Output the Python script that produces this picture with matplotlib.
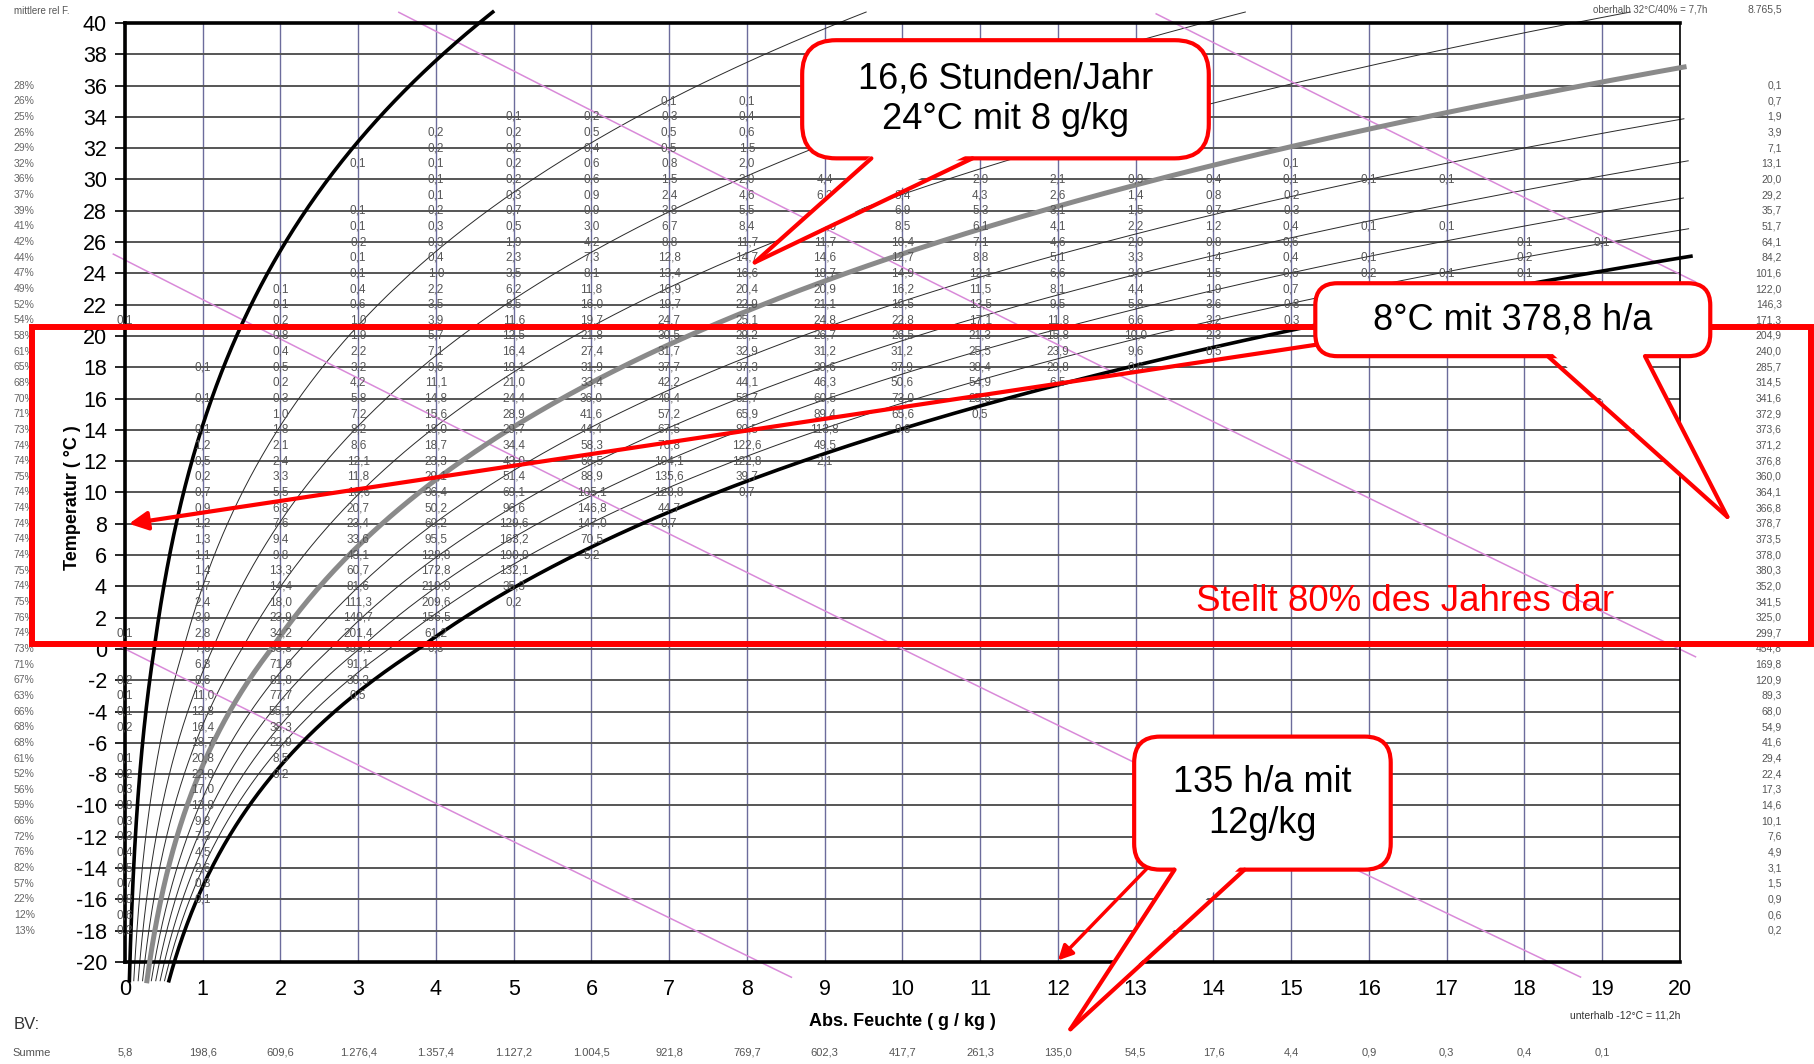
import numpy as np
import matplotlib
matplotlib.use("Agg")
import matplotlib.pyplot as plt
from matplotlib.patches import FancyBboxPatch, Polygon, Rectangle

# ---- values ----
temps = list(range(36, -19, -1))  # one row of hours per 1 degC

# first x column (g/kg) of each row, then the hours per year in that row (None = empty cell)
row_first_col = [9, 7, 5, 4, 4, 3, 4, 4, 3, 3, 3, 3, 3, 2, 2, 0, 2, 2, 1, 2, 1, 2, 1, 1, 1, 1,
                 1, 1, 1, 1, 1, 1, 1, 1, 1, 0, 1, 1, 0, 0, 0, 0, 1, 0, 0, 0, 0, 0, 0, 0, 0, 0,
                 0, 0, 0]
row_hours = [
    [0.1],
    [0.1, 0.1, 0.3, 0.2],
    [0.1, 0.2, 0.3, 0.4, 0.5, 0.3, 0.1],
    [0.2, 0.2, 0.5, 0.5, 0.6, 0.9, 0.6, 0.3, 0.1],
    [0.2, 0.2, 0.4, 0.5, 1.5, 1.6, 1.3, 0.8, 0.3, 0.2, 0.1],
    [0.1, 0.1, 0.2, 0.6, 0.8, 2.0, 3.0, 2.6, 2.3, 0.6, 0.5, 0.2, 0.1],
    [0.1, 0.2, 0.6, 1.5, 2.0, 4.4, 4.6, 2.9, 2.1, 0.9, 0.4, 0.1, 0.1, 0.1],
    [0.1, 0.3, 0.9, 2.4, 4.6, 6.2, 5.4, 4.3, 2.6, 1.4, 0.8, 0.2],
    [0.1, 0.2, 0.7, 0.9, 3.8, 5.5, 6.7, 6.9, 5.3, 3.1, 1.5, 0.7, 0.3],
    [0.1, 0.3, 0.5, 3.0, 6.7, 8.4, 10.0, 8.5, 6.1, 4.1, 2.2, 1.2, 0.4, 0.1, 0.1],
    [0.2, 0.3, 1.9, 4.2, 8.8, 11.7, 11.7, 10.4, 7.1, 4.6, 2.0, 0.8, 0.6, None, None, 0.1, 0.1],
    [0.1, 0.4, 2.3, 7.3, 12.8, 14.7, 14.6, 12.7, 8.8, 5.1, 3.3, 1.4, 0.4, 0.1, None, 0.2],
    [0.1, 1.0, 3.5, 8.1, 13.4, 16.6, 18.7, 14.9, 12.1, 6.6, 3.9, 1.5, 0.6, 0.2, 0.1, 0.1],
    [0.1, 0.4, 2.2, 6.2, 11.8, 16.9, 20.4, 20.9, 16.2, 11.5, 8.1, 4.4, 1.9, 0.7],
    [0.1, 0.6, 3.5, 8.5, 16.0, 19.7, 22.9, 21.1, 19.5, 13.5, 9.5, 5.8, 3.6, 0.8, 0.2],
    [0.1, None, 0.2, 1.0, 3.9, 11.6, 19.7, 24.7, 25.1, 24.8, 22.8, 17.1, 11.8, 6.6, 3.2, 0.3, 0.2],
    [0.8, 1.9, 5.7, 12.5, 21.8, 30.5, 29.2, 26.7, 26.5, 21.3, 15.8, 10.0, 2.3],
    [0.4, 2.2, 7.1, 16.4, 27.4, 31.7, 32.9, 31.2, 31.2, 25.5, 23.9, 9.6, 0.5],
    [0.1, 0.5, 3.2, 9.6, 19.1, 31.9, 37.7, 37.3, 39.6, 37.9, 38.4, 29.8, 0.6],
    [0.2, 4.2, 11.1, 21.0, 33.4, 42.2, 44.1, 46.3, 50.6, 54.9, 6.5],
    [0.1, 0.3, 5.8, 14.8, 24.4, 36.0, 49.4, 52.7, 60.5, 73.0, 25.5],
    [1.0, 7.2, 15.6, 28.9, 41.6, 57.2, 65.9, 89.4, 65.6, 0.5],
    [0.1, 1.8, 8.2, 18.0, 29.7, 44.4, 67.5, 80.5, 113.8, 9.6],
    [1.2, 2.1, 8.6, 18.7, 34.4, 58.3, 76.8, 122.6, 49.5],
    [0.5, 2.4, 12.1, 23.3, 43.0, 66.5, 104.1, 122.8, 2.1],
    [0.2, 3.3, 11.8, 29.1, 51.4, 88.9, 135.6, 39.7],
    [0.7, 5.5, 16.6, 36.4, 69.1, 105.1, 128.8, 0.7],
    [0.9, 6.8, 20.7, 50.2, 96.6, 146.8, 44.7],
    [1.2, 7.6, 23.4, 69.2, 129.6, 147.0, 0.7],
    [1.3, 9.4, 33.6, 95.5, 163.2, 70.5],
    [1.1, 9.8, 43.1, 128.8, 190.0, 5.2],
    [1.4, 13.3, 60.7, 172.8, 132.1],
    [1.7, 14.4, 81.6, 219.0, 35.3],
    [2.4, 18.0, 111.3, 209.6, 0.2],
    [3.9, 23.9, 140.7, 156.5],
    [0.1, 2.8, 34.2, 201.4, 61.2],
    [7.6, 93.8, 353.1, 0.3],
    [6.8, 71.9, 91.1],
    [0.2, 8.6, 81.8, 30.3],
    [0.1, 11.0, 77.7, 0.5],
    [0.1, 12.8, 55.1],
    [0.2, 16.4, 38.3],
    [18.7, 22.9],
    [0.1, 20.8, 8.5],
    [0.2, 22.0, 0.2],
    [0.3, 17.0],
    [0.8, 13.8],
    [0.3, 9.8],
    [0.3, 7.3],
    [0.4, 4.5],
    [0.5, 2.6],
    [0.7, 0.8],
    [0.8, 0.1],
    [0.6],
    [0.2],
]

# mean relative humidity per row (%), left margin
mean_rh = [28, 26, 25, 26, 29, 32, 36, 37, 39, 41, 42, 44, 47, 49, 52, 54,
           58, 61, 65, 68, 70, 71, 73, 74, 74, 75, 74, 74, 74, 74, 74, 75, 74, 75, 76, 74,
           73, 71, 67, 63, 66, 68, 68, 61, 52, 56, 59, 66, 72, 76, 82, 57, 22, 12, 13]

# hours per row, right margin
row_totals = [0.1, 0.7, 1.9, 3.9, 7.1, 13.1, 20.0, 29.2, 35.7, 51.7, 64.1, 84.2, 101.6,
              122.0, 146.3, 171.3, 204.9, 240.0, 285.7, 314.5, 341.6, 372.9, 373.6, 371.2,
              376.8, 360.0, 364.1, 366.8, 378.7, 373.5, 378.0, 380.3, 352.0, 341.5, 325.0,
              299.7, 454.8, 169.8, 120.9, 89.3, 68.0, 54.9, 41.6, 29.4, 22.4, 17.3, 14.6,
              10.1, 7.6, 4.9, 3.1, 1.5, 0.9, 0.6, 0.2]

# hours per humidity column ("Summe")
col_sums = [5.8, 198.6, 609.6, 1276.4, 1357.4, 1127.2, 1004.5, 921.8, 769.7, 602.3,
            417.7, 261.3, 135.0, 54.5, 17.6, 4.4, 0.9, 0.3, 0.4, 0.1]
grand_total = 8765.5

rh_levels = [10, 20, 30, 40, 50, 60, 70, 80, 90, 100]   # % relative humidity
enthalpy_levels = [0, 25, 50, 75]                        # kJ/kg

# callout boxes (x left, T top, x right, T bottom) - cells beneath them are covered
callout_boxes = [(8.71, 38.9, 13.94, 31.35), (15.31, 23.37, 20.39, 18.71),
                 (12.98, -5.6, 16.28, -14.1)]


def de(v, thousands=False):
    s = f"{v:,.1f}" if thousands else f"{v:.1f}"
    return s.replace(",", "X").replace(".", ",").replace("X", ".")


def abs_humidity(t, phi, p=101325.0):
    ps = np.where(t >= 0, 611.2 * np.exp(17.62 * t / (243.12 + t)),
                  611.2 * np.exp(22.46 * t / (272.62 + t)))
    return 622.0 * phi * ps / (p - phi * ps)


def covered(x, temp):
    for x0, t0, x1, t1 in callout_boxes:
        if x0 - 0.3 <= x <= x1 + 0.3 and t1 - 0.5 <= temp <= t0 + 0.5:
            return True
    return False


plt.rcParams["font.family"] = ["Liberation Sans", "DejaVu Sans"]
plt.rcParams["axes.unicode_minus"] = False
narrow = ["Liberation Sans Narrow", "Liberation Sans", "DejaVu Sans"]

fig = plt.figure(figsize=(18.14, 10.64), dpi=100)
ax = fig.add_axes([0.0689, 0.0959, 0.8572, 0.8825])
ax.set_xlim(0, 20)
ax.set_ylim(-20, 40)

# grid
ax.set_xticks(range(0, 21))
ax.set_yticks(range(-20, 41, 2))
ax.grid(axis="x", color="#6c6c9c", lw=1.0, zorder=0)
ax.grid(axis="y", color="#555555", lw=1.4, zorder=0)
for side in ["left", "top", "bottom"]:
    ax.spines[side].set_linewidth(2.6)
ax.spines["right"].set_linewidth(1.2)
ax.tick_params(axis="y", length=7, width=1.2, pad=6, labelsize=15.5)
ax.tick_params(axis="x", length=0, pad=12, labelsize=15.5)
for lbl in ax.get_xticklabels() + ax.get_yticklabels():
    lbl.set_fontfamily(narrow)

# relative humidity curves
t = np.linspace(-21.2, 40.7, 600)
for rh in rh_levels:
    x = abs_humidity(t, rh / 100.0)
    m = x <= 20.15
    if rh in (10, 100):
        ax.plot(x[m], t[m], color="black", lw=2.6, clip_on=False, zorder=3)
    elif rh == 50:
        ax.plot(x[m], t[m], color="#8a8a8a", lw=3.6, clip_on=False, zorder=3)
    else:
        ax.plot(x[m], t[m], color="#2a2a2a", lw=0.7, clip_on=False, zorder=2)

# enthalpy lines
xe = np.linspace(-0.15, 20.2, 400)
for h in enthalpy_levels:
    te = (h - 2.501 * xe) / (1.006 + 0.00186 * xe)
    m = (te <= 40.7) & (te >= -21.0)
    ax.plot(xe[m], te[m], color="#d98ad9", lw=1.1, clip_on=False, zorder=2)

# hours in each cell
for temp, c0, vals in zip(temps, row_first_col, row_hours):
    for i, v in enumerate(vals):
        if v is None or covered(c0 + i, temp):
            continue
        ax.text(c0 + i, temp, de(v), ha="center", va="center", fontsize=8.5,
                color="#555555", family=narrow, zorder=4)

# margins
for temp, rh in zip(temps, mean_rh):
    ax.text(-1.43, temp, f"{rh}%", ha="left", va="center", fontsize=7.5,
            color="#666666", clip_on=False)
for temp, tot in zip(temps, row_totals):
    ax.text(21.31, temp, de(tot), ha="right", va="center", fontsize=7.5,
            color="#555555", clip_on=False)
for k, s in enumerate(col_sums):
    ax.text(k, -25.8, de(s, True), ha="center", va="center", fontsize=8,
            color="#555555", family=narrow, clip_on=False)

ax.text(-1.43, 40.75, "mittlere rel F.", ha="left", va="center", fontsize=7, color="#555555",
        clip_on=False)
ax.text(21.31, 40.85, de(grand_total, True), ha="right", va="center", fontsize=7.5,
        color="#555555", clip_on=False)
ax.text(20.35, 40.85, "oberhalb 32°C/40% = 7,7h", ha="right", va="center", fontsize=7,
        color="#555555", clip_on=False)
ax.text(20.0, -23.4, "unterhalb -12°C = 11,2h", ha="right", va="center", fontsize=7.5,
        color="#333333", family=narrow, clip_on=False)
ax.text(-1.43, -24.0, "BV:", ha="left", va="center", fontsize=12, color="#333333",
        clip_on=False)
ax.text(-1.45, -25.8, "Summe", ha="left", va="center", fontsize=8, color="#555555",
        family=narrow, clip_on=False)
ax.text(10.0, -23.8, "Abs. Feuchte ( g / kg )", ha="center", va="center", fontsize=13,
        fontweight="bold", family=narrow, clip_on=False)
ax.text(-0.68, 9.7, "Temperatur ( °C )", ha="center", va="center", rotation=90,
        fontsize=13, fontweight="bold", family=narrow, clip_on=False)

# ---- red annotations (overlay in pixel units) ----
ov = fig.add_axes([0, 0, 1, 1], zorder=5)
ov.set_xlim(0, 1814)
ov.set_ylim(1064, 0)
ov.axis("off")


def to_px(x, temp):
    return ov.transData.inverted().transform(ax.transData.transform((x, temp)))


def callout(box, base, tip, text, radius):
    (l, top) = to_px(box[0], box[1])
    (r, bot) = to_px(box[2], box[3])
    ov.add_patch(FancyBboxPatch((l, top), r - l, bot - top,
                                boxstyle=f"round,pad=0,rounding_size={radius}",
                                fc="white", ec="red", lw=3.0, zorder=3))
    a = to_px(base[0], base[2])
    b = to_px(base[1], base[2])
    p = to_px(*tip)
    ov.add_patch(Polygon([(a[0] + 2, a[1] - 5), (b[0] - 2, b[1] - 5), p],
                         closed=True, fc="white", ec="none", zorder=4))
    ov.plot([a[0], p[0]], [a[1], p[1]], color="red", lw=3.0, zorder=4,
            solid_capstyle="round")
    ov.plot([b[0], p[0]], [b[1], p[1]], color="red", lw=3.0, zorder=4,
            solid_capstyle="round")
    ov.text((l + r) / 2, (top + bot) / 2, text, ha="center", va="center", fontsize=26,
            linespacing=1.2, zorder=5)


# 80 % frame
(rl, rt) = to_px(-1.19, 20.56)
(rr, rb) = to_px(21.68, 0.31)
ov.add_patch(Rectangle((rl, rt), rr - rl, rb - rt, fill=False, ec="red", lw=4.3, zorder=1))
sx, sy = to_px(16.47, 3.05)
ov.text(sx, sy, "Stellt 80% des Jahres dar", color="red", fontsize=26.5, ha="center",
        va="center", zorder=2)

# arrows
ov.annotate("", xy=to_px(0.05, 8.0), xytext=to_px(15.4, 19.5),
            arrowprops=dict(arrowstyle="-|>", color="red", lw=3.0, mutation_scale=28,
                            shrinkA=0, shrinkB=0), zorder=2)
ov.annotate("", xy=to_px(12.0, -19.9), xytext=to_px(13.15, -14.0),
            arrowprops=dict(arrowstyle="-|>", color="red", lw=2.5, mutation_scale=22,
                            shrinkA=0, shrinkB=0), zorder=2)

callout(callout_boxes[0], (9.6, 10.9, 31.35), (8.1, 24.7),
        "16,6 Stunden/Jahr\n24°C mit 8 g/kg", 34)
callout(callout_boxes[1], (18.3, 19.55, 18.71), (20.61, 8.44),
        "8°C mit 378,8 h/a", 22)
callout(callout_boxes[2], (13.5, 14.4, -14.1), (12.16, -24.3),
        "135 h/a mit\n12g/kg", 26)

fig.savefig("out.png", dpi=100)
